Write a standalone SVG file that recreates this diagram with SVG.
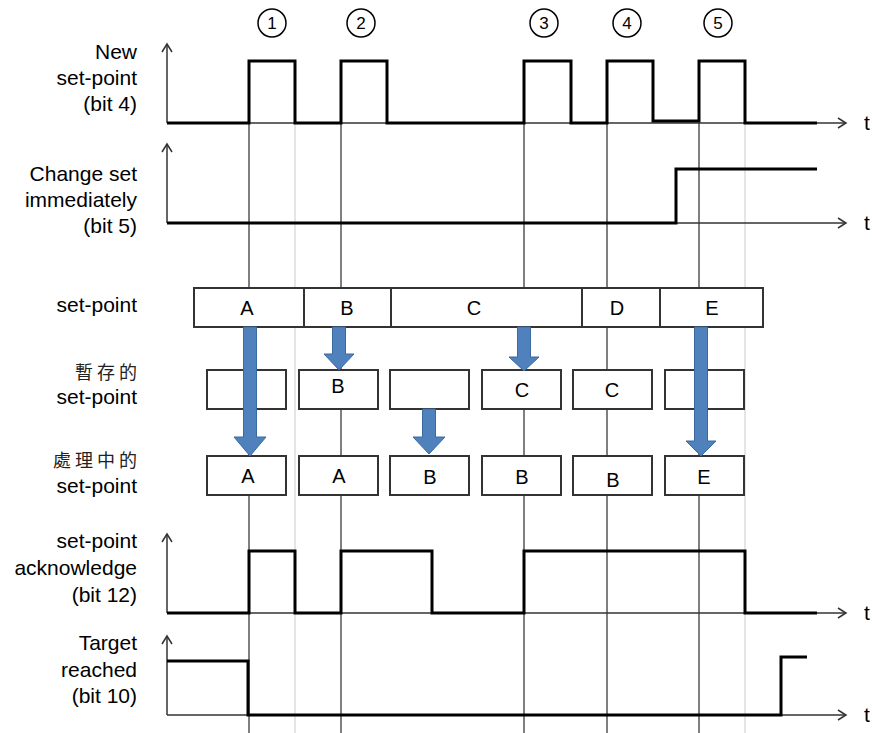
<svg xmlns="http://www.w3.org/2000/svg" width="872" height="733" viewBox="0 0 872 733">
<style>
.lbl{font-family:"Liberation Sans",Arial,sans-serif;font-size:21px;fill:#000;text-anchor:end}
.cjk{font-family:"Noto Sans CJK TC","Noto Sans CJK SC",sans-serif;font-size:18px;fill:#222;text-anchor:end;letter-spacing:4px}
.bt{font-family:"Liberation Sans",Arial,sans-serif;font-size:20px;fill:#000;text-anchor:middle}
.num{font-family:"Liberation Sans",Arial,sans-serif;font-size:17px;fill:#000;text-anchor:middle}
.box{fill:#fff;stroke:#333;stroke-width:2}
.grid{stroke:#555;stroke-width:1.5;fill:none}
.lgrid{stroke:#ddd;stroke-width:1.5;fill:none}
.axis{stroke:#333;stroke-width:1.5;fill:none}
.sig{stroke:#000;stroke-width:3;fill:none;stroke-linejoin:miter}
.barrow{fill:#4f81bd;stroke:#3b6aa0;stroke-width:1}
.circ{fill:#fff;stroke:#000;stroke-width:1.5}
</style>
<defs>
<marker id="ah" markerWidth="12" markerHeight="12" refX="10" refY="6" orient="auto" markerUnits="userSpaceOnUse">
<path d="M2,1 L10,6 L2,11" fill="none" stroke="#333" stroke-width="1.5"/>
</marker>
</defs>
<rect width="872" height="733" fill="#fff"/>

<g id="grid">
<line class="lgrid" x1="295" y1="123" x2="295" y2="733"/>
<line class="lgrid" x1="745" y1="123" x2="745" y2="733"/>
<line class="grid" x1="249" y1="123" x2="249" y2="733"/>
<line class="grid" x1="341" y1="123" x2="341" y2="733"/>
<line class="grid" x1="524" y1="123" x2="524" y2="733"/>
<line class="grid" x1="607" y1="123" x2="607" y2="733"/>
<line class="grid" x1="699" y1="123" x2="699" y2="733"/>
</g>

<g id="labels">
<text class="lbl" x="137" y="59">New</text>
<text class="lbl" x="137" y="85">set-point</text>
<text class="lbl" x="137" y="111">(bit 4)</text>
<text class="lbl" x="137" y="181">Change set</text>
<text class="lbl" x="137" y="207">immediately</text>
<text class="lbl" x="137" y="233">(bit 5)</text>
<text class="lbl" x="137" y="312">set-point</text>
<text class="cjk" x="141" y="379">暫存的</text>
<text class="lbl" x="137" y="404">set-point</text>
<text class="cjk" x="141" y="467">處理中的</text>
<text class="lbl" x="137" y="493">set-point</text>
<text class="lbl" x="137" y="548">set-point</text>
<text class="lbl" x="137" y="575">acknowledge</text>
<text class="lbl" x="137" y="602">(bit 12)</text>
<text class="lbl" x="137" y="650">Target</text>
<text class="lbl" x="137" y="677">reached</text>
<text class="lbl" x="137" y="703">(bit 10)</text>
</g>

<g id="steps">
<g id="step1"><circle class="circ" cx="272" cy="23" r="14"/><text class="num" x="272" y="29">1</text></g>
<g id="step2"><circle class="circ" cx="361" cy="23" r="14"/><text class="num" x="361" y="29">2</text></g>
<g id="step3"><circle class="circ" cx="544" cy="23" r="14"/><text class="num" x="544" y="29">3</text></g>
<g id="step4"><circle class="circ" cx="627" cy="23" r="14"/><text class="num" x="627" y="29">4</text></g>
<g id="step5"><circle class="circ" cx="718" cy="23" r="14"/><text class="num" x="718" y="29">5</text></g>
</g>

<g id="axes">
<line class="axis" x1="167" y1="123" x2="167" y2="44" marker-end="url(#ah)"/>
<line class="axis" x1="167" y1="123" x2="846" y2="123" marker-end="url(#ah)"/>
<line class="axis" x1="167" y1="223" x2="167" y2="144" marker-end="url(#ah)"/>
<line class="axis" x1="167" y1="223" x2="846" y2="223" marker-end="url(#ah)"/>
<line class="axis" x1="167" y1="613" x2="167" y2="534" marker-end="url(#ah)"/>
<line class="axis" x1="167" y1="613" x2="846" y2="613" marker-end="url(#ah)"/>
<line class="axis" x1="167" y1="715" x2="167" y2="636" marker-end="url(#ah)"/>
<line class="axis" x1="167" y1="715" x2="846" y2="715" marker-end="url(#ah)"/>
<text class="bt" x="867" y="130" style="font-size:21px">t</text>
<text class="bt" x="867" y="230" style="font-size:21px">t</text>
<text class="bt" x="867" y="620" style="font-size:21px">t</text>
<text class="bt" x="867" y="722" style="font-size:21px">t</text>
</g>

<g id="signals">
<path id="sig-newsp" class="sig" d="M167,123 H249 V61 H295 V123 H341 V61 H387 V123 H524 V61 H571 V123 H607 V61 H653 V121 H699 V61 H745 V123 H817"/>
<path id="sig-change" class="sig" d="M167,223 H676 V169 H817"/>
<path id="sig-ack" class="sig" d="M167,613 H249 V551 H295 V613 H341 V551 H432 V613 H524 V551 H745 V613 H817"/>
<path id="sig-target" class="sig" d="M167,661 H248 V715 H781 V657 H807"/>
</g>

<g id="setpoint-row">
<g id="sp-A"><rect class="box" x="194" y="288" width="110" height="39"/><text class="bt" x="247" y="315">A</text></g>
<g id="sp-B"><rect class="box" x="304" y="288" width="87" height="39"/><text class="bt" x="347" y="315">B</text></g>
<g id="sp-C"><rect class="box" x="391" y="288" width="191" height="39"/><text class="bt" x="474" y="315">C</text></g>
<g id="sp-D"><rect class="box" x="582" y="288" width="78" height="39"/><text class="bt" x="617" y="315">D</text></g>
<g id="sp-E"><rect class="box" x="660" y="288" width="103" height="39"/><text class="bt" x="712" y="315">E</text></g>
</g>

<g id="buffer-row">
<g id="buf1"><rect class="box" x="207" y="370" width="79" height="39"/></g>
<g id="buf2"><rect class="box" x="299" y="370" width="79" height="39"/><text class="bt" x="338" y="393">B</text></g>
<g id="buf3"><rect class="box" x="390" y="370" width="79" height="39"/></g>
<g id="buf4"><rect class="box" x="482" y="370" width="79" height="39"/><text class="bt" x="522" y="397">C</text></g>
<g id="buf5"><rect class="box" x="573" y="370" width="79" height="39"/><text class="bt" x="612" y="397">C</text></g>
<g id="buf6"><rect class="box" x="665" y="370" width="79" height="39"/></g>
</g>

<g id="proc-row">
<g id="proc1"><rect class="box" x="207" y="456" width="79" height="39"/><text class="bt" x="248" y="483">A</text></g>
<g id="proc2"><rect class="box" x="299" y="456" width="79" height="39"/><text class="bt" x="339" y="483">A</text></g>
<g id="proc3"><rect class="box" x="390" y="456" width="79" height="39"/><text class="bt" x="430" y="484">B</text></g>
<g id="proc4"><rect class="box" x="482" y="456" width="79" height="39"/><text class="bt" x="522" y="484">B</text></g>
<g id="proc5"><rect class="box" x="573" y="456" width="79" height="39"/><text class="bt" x="613" y="487">B</text></g>
<g id="proc6"><rect class="box" x="665" y="456" width="79" height="39"/><text class="bt" x="704" y="484">E</text></g>
</g>

<g id="connectors">
<path class="barrow" d="M243.5,327 H256.5 V437 H266 L250,456 L234,437 H243.5 Z"/>
<path class="barrow" d="M332.5,327 H345.5 V354 H354 L339,370 L324,354 H332.5 Z"/>
<path class="barrow" d="M422.5,409 H435.5 V437 H445 L429,454 L413,437 H422.5 Z"/>
<path class="barrow" d="M517.5,327 H530.5 V357 H539 L524,371 L509,357 H517.5 Z"/>
<path class="barrow" d="M694.5,327 H707.5 V441 H716 L701,456 L686,441 H694.5 Z"/>
</g>
</svg>
